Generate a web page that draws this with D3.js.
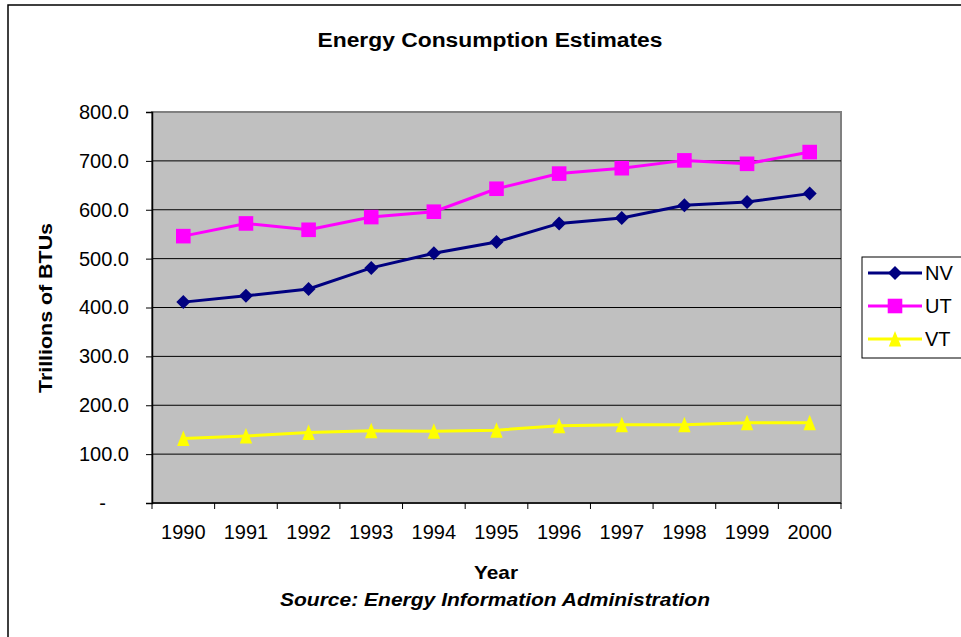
<!DOCTYPE html>
<html>
<head>
<meta charset="utf-8">
<script src="https://cdn.jsdelivr.net/npm/d3@7/dist/d3.min.js"></script>
<style>
  html, body { margin: 0; padding: 0; background: #fff; }
  svg { display: block; font-family: "Liberation Sans", Arial, sans-serif; }
</style>
</head>
<body>
<svg id="chart" width="961" height="637"></svg>
<script>
// Energy consumption estimates, trillions of BTUs
const years = ["1990","1991","1992","1993","1994","1995","1996","1997","1998","1999","2000"];
const nv = [411, 424, 438, 481, 511, 534, 572, 583, 609, 616, 633];
const ut = [546, 572, 559, 585, 596, 643, 674, 685, 701, 694, 718];
const vt = [132, 137, 144, 148, 147, 149, 158, 160, 160, 164, 164];
const yTicks = [0, 100, 200, 300, 400, 500, 600, 700, 800];

const series = [
  { name: "NV", values: nv, color: "#000080", marker: "diamond" },
  { name: "UT", values: ut, color: "#FF00FF", marker: "square" },
  { name: "VT", values: vt, color: "#FFFF00", marker: "triangle" }
];

const svg = d3.select("#chart");
const plot = { left: 152, top: 112, right: 841, bottom: 503 };

const x = d3.scaleBand().domain(years).range([plot.left, plot.right]).paddingInner(0).paddingOuter(0);
const y = d3.scaleLinear().domain([0, 800]).range([plot.bottom, plot.top]);
const cx = d => x(d) + x.bandwidth() / 2;

// outer chart frame
svg.append("rect").attr("x", 8).attr("y", 5).attr("width", 980).attr("height", 660)
  .attr("fill", "#fff").attr("stroke", "#000").attr("stroke-width", 1.5);

// plot background
svg.append("rect").attr("x", plot.left).attr("y", plot.top)
  .attr("width", plot.right - plot.left).attr("height", plot.bottom - plot.top)
  .attr("fill", "#C0C0C0").attr("stroke", "#808080").attr("stroke-width", 2);

// gridlines
svg.append("g").selectAll("line").data(yTicks.filter(v => v > 0 && v < 800)).join("line")
  .attr("x1", plot.left).attr("x2", plot.right)
  .attr("y1", d => y(d)).attr("y2", d => y(d))
  .attr("stroke", "#000").attr("stroke-width", 1);

// y axis
const yAxis = svg.append("g").attr("transform", `translate(${plot.left},0)`)
  .call(d3.axisLeft(y).tickValues(yTicks).tickSize(6).tickPadding(17)
    .tickFormat(d => d === 0 ? "-" : d3.format(".1f")(d)));
yAxis.select(".domain").attr("stroke", "#000").attr("stroke-width", 1.5);
yAxis.selectAll(".tick line").attr("stroke", "#000");
yAxis.selectAll("text").attr("font-size", 20).attr("fill", "#000")
  .attr("font-family", "Liberation Sans, Arial, sans-serif");
yAxis.selectAll(".tick").filter(d => d === 0).select("text").attr("x", -46);

// x axis with ticks on category boundaries
const xAxis = svg.append("g").attr("transform", `translate(0,${plot.bottom})`);
xAxis.append("line").attr("x1", plot.left).attr("x2", plot.right)
  .attr("y1", 0).attr("y2", 0).attr("stroke", "#000").attr("stroke-width", 1.5);
const bounds = years.map(d => x(d)).concat([plot.right]);
xAxis.selectAll("line.tk").data(bounds).join("line").attr("class", "tk")
  .attr("x1", d => d).attr("x2", d => d).attr("y1", 0).attr("y2", 6)
  .attr("stroke", "#000").attr("stroke-width", 1);
xAxis.selectAll("text").data(years).join("text")
  .attr("x", d => cx(d)).attr("y", 36).attr("text-anchor", "middle")
  .attr("font-size", 20).text(d => d);

// series lines and markers
const line = d3.line().x((d, i) => cx(years[i])).y(d => y(d));
const markerPath = {
  diamond: "M0,-7L7,0L0,7L-7,0Z",
  square: "M-7.3,-7.3H7.3V7.3H-7.3Z",
  triangle: "M0,-8L6.2,7.5H-6.2Z"
};

series.forEach(s => {
  svg.append("path").datum(s.values).attr("d", line)
    .attr("fill", "none").attr("stroke", s.color).attr("stroke-width", 3);
  svg.append("g").selectAll("path").data(s.values).join("path")
    .attr("transform", (d, i) => `translate(${cx(years[i])},${y(d)})`)
    .attr("d", markerPath[s.marker]).attr("fill", s.color);
});

// title and axis titles
svg.append("text").attr("x", 490).attr("y", 47).attr("text-anchor", "middle")
  .attr("font-size", 20).attr("font-weight", "bold")
  .attr("textLength", 345).attr("lengthAdjust", "spacingAndGlyphs")
  .text("Energy Consumption Estimates");
svg.append("text").attr("transform", "translate(52,308) rotate(-90)").attr("text-anchor", "middle")
  .attr("font-size", 19).attr("font-weight", "bold")
  .attr("textLength", 170).attr("lengthAdjust", "spacingAndGlyphs")
  .text("Trillions of BTUs");
svg.append("text").attr("x", 496).attr("y", 579).attr("text-anchor", "middle")
  .attr("font-size", 19).attr("font-weight", "bold")
  .attr("textLength", 44).attr("lengthAdjust", "spacingAndGlyphs")
  .text("Year");
svg.append("text").attr("x", 495).attr("y", 606).attr("text-anchor", "middle")
  .attr("font-size", 19).attr("font-weight", "bold").attr("font-style", "italic")
  .attr("textLength", 430).attr("lengthAdjust", "spacingAndGlyphs")
  .text("Source: Energy Information Administration");

// legend
const lg = svg.append("g").attr("transform", "translate(862,257)");
lg.append("rect").attr("width", 120).attr("height", 101)
  .attr("fill", "#fff").attr("stroke", "#000").attr("stroke-width", 1);
series.forEach((s, i) => {
  const ly = 16 + i * 33;
  lg.append("line").attr("x1", 6).attr("x2", 60).attr("y1", ly).attr("y2", ly)
    .attr("stroke", s.color).attr("stroke-width", 3);
  lg.append("path").attr("transform", `translate(33,${ly})`)
    .attr("d", markerPath[s.marker]).attr("fill", s.color);
  lg.append("text").attr("x", 63).attr("y", ly + 7).attr("font-size", 20).text(s.name);
});
</script>
</body>
</html>
